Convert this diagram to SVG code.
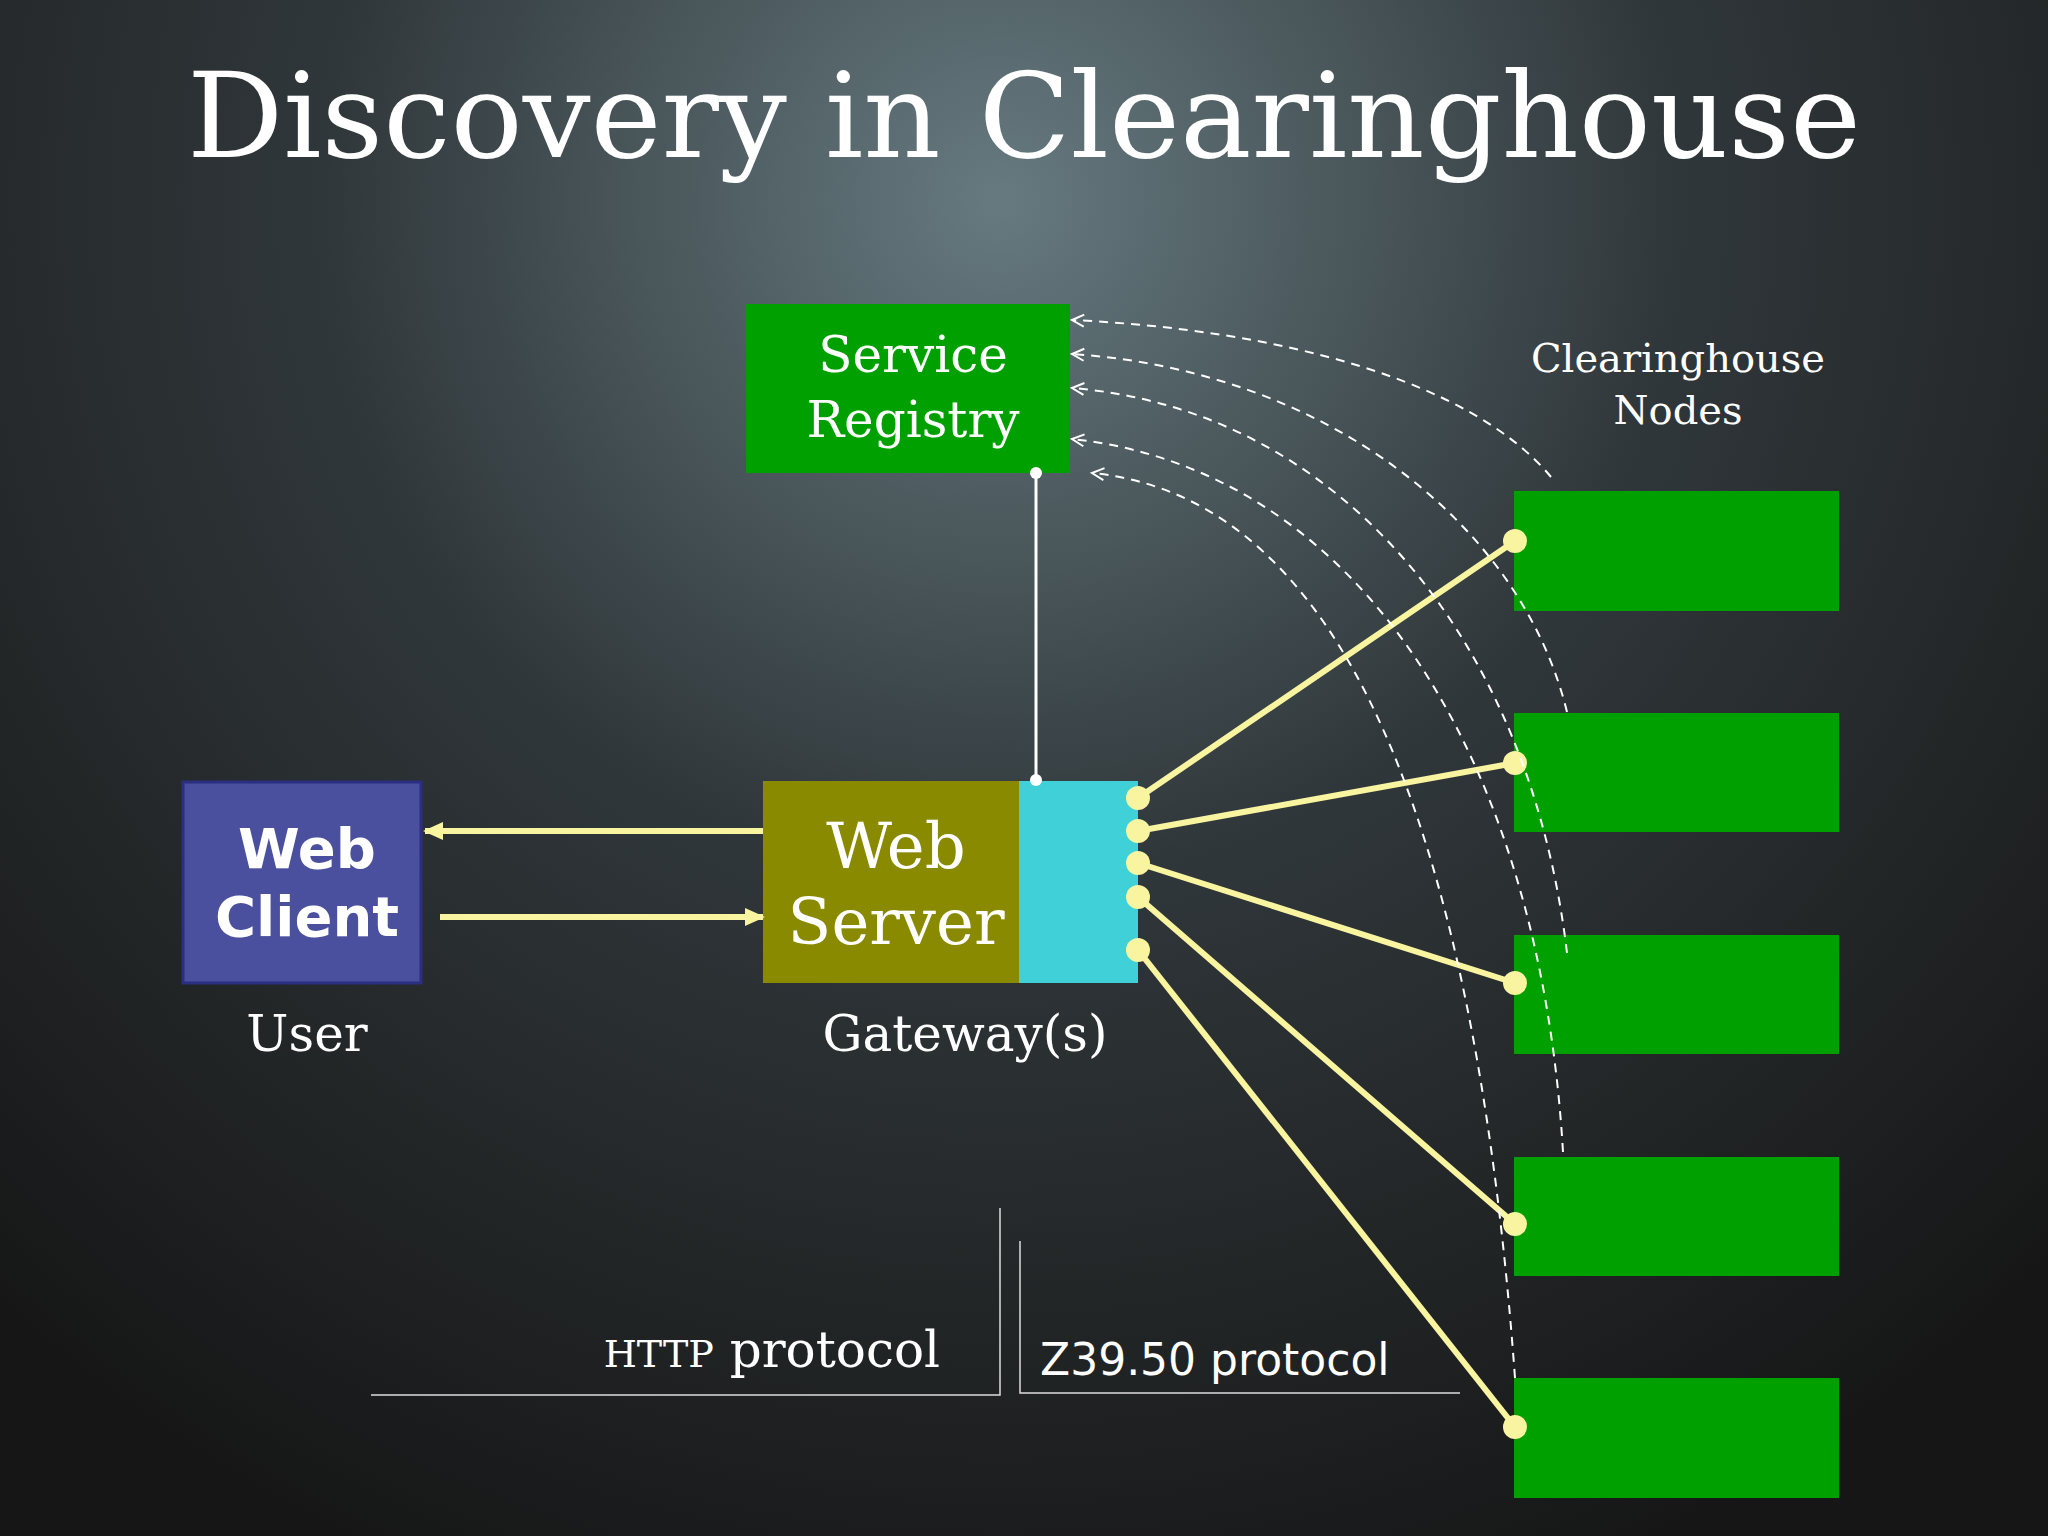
<svg xmlns="http://www.w3.org/2000/svg" width="2048" height="1536" viewBox="0 0 2048 1536">
<defs>
<radialGradient id="bg" cx="1000" cy="200" r="1500" gradientUnits="userSpaceOnUse">
<stop offset="0" stop-color="#667a80"/><stop offset="0.45" stop-color="#30373a"/><stop offset="1" stop-color="#161616"/>
</radialGradient>
<marker id="ya" markerWidth="22" markerHeight="22" refX="18" refY="11" orient="auto" markerUnits="userSpaceOnUse"><path d="M0,2 L20,11 L0,20 z" fill="#f8f4a0"/></marker>
<marker id="wa" markerWidth="16" markerHeight="16" refX="14" refY="8" orient="auto" markerUnits="userSpaceOnUse"><path d="M2,2 L14,8 L2,14" fill="none" stroke="#fff" stroke-width="2"/></marker>
</defs>
<style>
.serif{font-family:"DejaVu Serif","Liberation Serif",serif;fill:#fff}
.sans{font-family:"DejaVu Sans","Liberation Sans",sans-serif;fill:#fff}
.node{fill:#00a000}
.yl{stroke:#f8f4a0;stroke-width:6;fill:none}
.dot{fill:#f8f4a0}
.dash{stroke:#fff;stroke-width:2;stroke-dasharray:9 7;fill:none}
.thin{stroke:#ddd;stroke-width:1.5;fill:none}
</style>
<rect width="2048" height="1536" fill="url(#bg)"/>
<text class="serif" x="1024" y="157" font-size="118" text-anchor="middle" textLength="1674" lengthAdjust="spacingAndGlyphs">Discovery in Clearinghouse</text>

<g id="registry"><rect class="node" x="746" y="304" width="324" height="169"/>
<text class="serif" x="913" y="372" font-size="50" text-anchor="middle">Service</text>
<text class="serif" x="913" y="437" font-size="50" text-anchor="middle">Registry</text></g>

<g id="webclient"><rect x="183" y="782" width="238" height="201" fill="#4a4f9e" stroke="#2a2f80" stroke-width="3"/>
<text class="sans" x="307" y="868" font-size="56" font-weight="bold" text-anchor="middle">Web</text>
<text class="sans" x="307" y="936" font-size="56" font-weight="bold" text-anchor="middle">Client</text>
<text class="serif" x="307" y="1051" font-size="50" text-anchor="middle">User</text></g>

<g id="webserver"><rect x="763" y="781" width="256" height="202" fill="#8a8a00"/>
<rect x="1019" y="781" width="119" height="202" fill="#40d0d8"/>
<text class="serif" x="896" y="868" font-size="64" text-anchor="middle">Web</text>
<text class="serif" x="896" y="944" font-size="64" text-anchor="middle">Server</text>
<text class="serif" x="965" y="1051" font-size="50" text-anchor="middle">Gateway(s)</text></g>

<g id="chnodes">
<text class="serif" x="1678" y="372" font-size="40" text-anchor="middle">Clearinghouse</text>
<text class="serif" x="1678" y="424" font-size="40" text-anchor="middle">Nodes</text>
<rect class="node" x="1514" y="491" width="325" height="120"/>
<rect class="node" x="1514" y="713" width="325" height="119"/>
<rect class="node" x="1514" y="935" width="325" height="119"/>
<rect class="node" x="1514" y="1157" width="325" height="119"/>
<rect class="node" x="1514" y="1378" width="325" height="120"/>
</g>

<g id="connectors">
<line class="yl" x1="763" y1="831" x2="425" y2="831" marker-end="url(#ya)"/>
<line class="yl" x1="440" y1="917" x2="763" y2="917" marker-end="url(#ya)"/>
<line x1="1036" y1="473" x2="1036" y2="780" stroke="#fff" stroke-width="3"/>
<circle cx="1036" cy="473" r="6" fill="#fff"/><circle cx="1036" cy="780" r="6" fill="#fff"/>
<line class="yl" x1="1138" y1="798" x2="1515" y2="541"/>
<line class="yl" x1="1138" y1="831" x2="1515" y2="763"/>
<line class="yl" x1="1138" y1="863" x2="1515" y2="983"/>
<line class="yl" x1="1138" y1="897" x2="1515" y2="1224"/>
<line class="yl" x1="1138" y1="950" x2="1515" y2="1427"/>
<g class="dot">
<circle cx="1138" cy="798" r="12"/><circle cx="1138" cy="831" r="12"/><circle cx="1138" cy="863" r="12"/><circle cx="1138" cy="897" r="12"/><circle cx="1138" cy="950" r="12"/>
<circle cx="1515" cy="541" r="12"/><circle cx="1515" cy="763" r="12"/><circle cx="1515" cy="983" r="12"/><circle cx="1515" cy="1224" r="12"/><circle cx="1515" cy="1427" r="12"/>
</g>
<path class="dash" d="M1551,477 C1470,380 1280,330 1072,320" marker-end="url(#wa)"/>
<path class="dash" d="M1567,712 C1520,520 1320,370 1072,354" marker-end="url(#wa)"/>
<path class="dash" d="M1567,953 C1530,640 1340,410 1072,388" marker-end="url(#wa)"/>
<path class="dash" d="M1563,1152 C1540,760 1360,470 1072,439" marker-end="url(#wa)"/>
<path class="dash" d="M1515,1378 C1480,900 1370,500 1092,473" marker-end="url(#wa)"/>
</g>

<g id="protocols">
<polyline class="thin" points="1000,1208 1000,1395 371,1395"/>
<polyline class="thin" points="1020,1241 1020,1393 1460,1393"/>
<text class="serif" x="940" y="1367" font-size="50" text-anchor="end"><tspan font-size="38">HTTP</tspan> protocol</text>
<text class="sans" x="1040" y="1375" font-size="44">Z39.50 protocol</text>
</g>
</svg>
